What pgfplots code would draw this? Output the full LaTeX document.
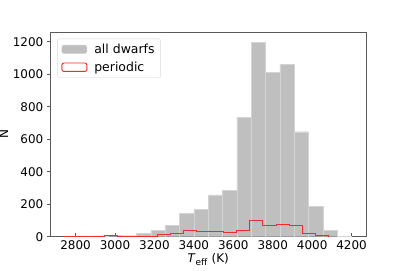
\documentclass[border=0pt]{standalone}
\usepackage{pgfplots}
\pgfplotsset{compat=1.18}
\usepackage{fontspec}
\setmainfont{DejaVu Sans}
\definecolor{bargray}{RGB}{191,191,191}
\definecolor{baredge}{RGB}{212,212,212}
\definecolor{spine}{RGB}{90,90,90}
\definecolor{stepred}{RGB}{238,45,45}
\begin{document}
\begin{tikzpicture}
\useasboundingbox (-50.3bp,-34.3bp) rectangle (356.7bp,236.7bp);
\begin{axis}[
  at={(0,0)}, anchor=south west,
  scale only axis, width=315.7bp, height=204.4bp,
  xmin=2672, xmax=4273, ymin=0, ymax=1258,
  xtick={2800,3000,...,4200}, ytick={0,200,...,1200},
  xtick pos=bottom, ytick pos=left,
  xtick align=inside, ytick align=outside,
  major tick length=3.5bp,
  tick style={spine, line width=0.6bp},
  axis line style={spine, line width=0.8bp},
  /pgf/number format/assume math mode=true,
  /pgf/number format/1000 sep={},
  tick label style={font=\fontsize{12}{14}\selectfont},
  xlabel={\textit{T}\textsubscript{\fontsize{9}{10}\selectfont eff} (K)},
  ylabel={N},
  label style={font=\fontsize{12}{14}\selectfont},
  xlabel style={at={(0.5,0)}, anchor=center, yshift=-23bp},
  ylabel shift=-2bp,
  legend style={at={(0.022,0.969)}, anchor=north west, draw=black!15, rounded corners=2bp,
    font=\fontsize{12.5}{14}\selectfont, inner xsep=4bp, inner ysep=3bp, row sep=3bp,
    /tikz/every odd column/.append style={column sep=5bp}},
  legend cell align=left,
  legend image code/.code={\draw[#1] (0bp,-4.2bp) rectangle (25bp,4.2bp);},
]
\addplot[ybar interval, fill=bargray, draw=baredge, line width=0.4bp] coordinates {
(2745,2) (2817.75,2) (2890.5,5) (2963.25,7) (3036,6) (3108.75,22) (3181.5,41)
(3254.25,72) (3327,144) (3399.75,168) (3472.5,257) (3545.25,285) (3618,735)
(3690.75,1198) (3763.5,1013) (3836.25,1061) (3909,646) (3981.75,185)
(4054.5,37) (4127.25,4) (4200,4)};
\addlegendentry{all dwarfs}
\addplot[const plot mark left, draw=stepred, line width=0.9bp] coordinates {
(2745,0) (2745,1) (2812,1) (2879,4) (2946,6) (3013,4) (3080,3) (3147,4)
(3214,12) (3281,18) (3348,39) (3415,35) (3482,33) (3549,27) (3616,38)
(3683,98) (3750,72) (3817,76) (3884,72) (3951,21) (4018,6) (4085,0)};
\addlegendentry{periodic}
\end{axis}
\end{tikzpicture}
\end{document}
